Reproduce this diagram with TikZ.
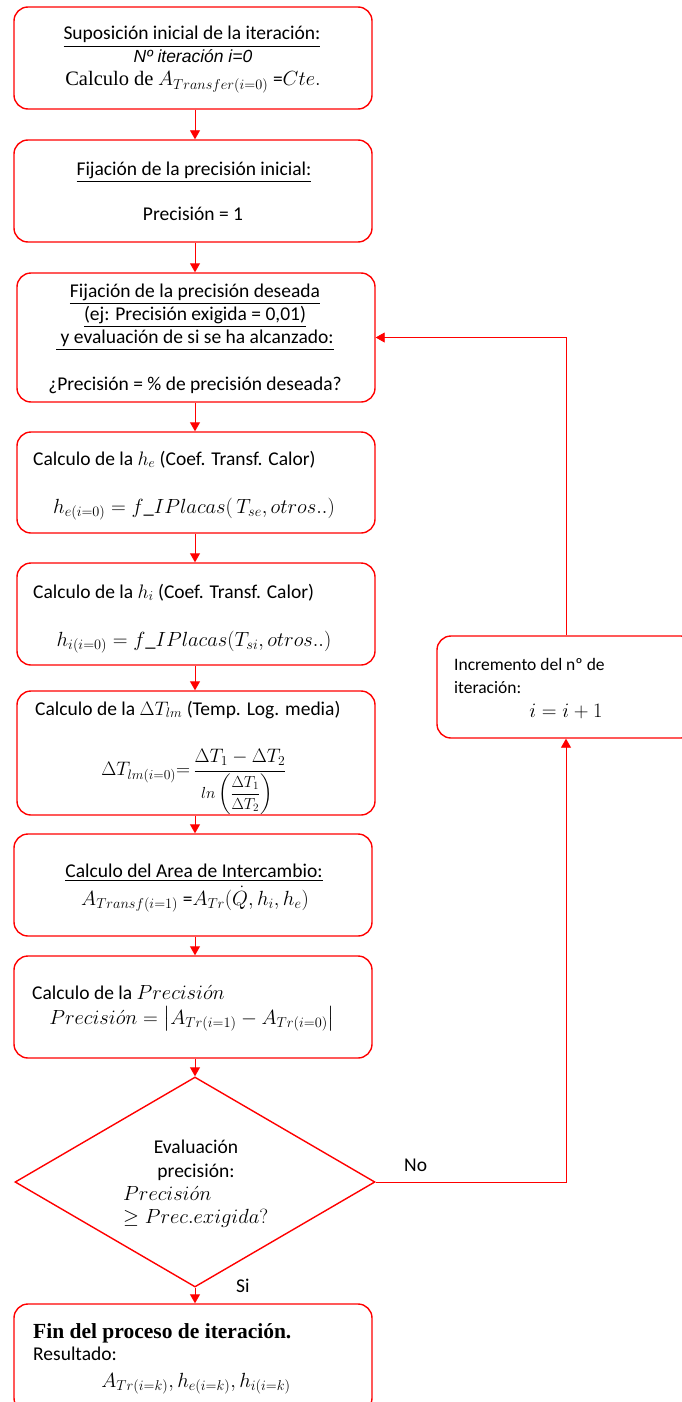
\RequirePackage{fix-cm}
\documentclass[tikz,border=0pt]{standalone}
\usepackage{amsmath}
\usepackage{graphicx}
\usepackage{fontspec}
\setmainfont{Carlito}
\newfontfamily\serifcb{Liberation Serif}
\newfontfamily\arialf{Liberation Sans}
\usetikzlibrary{arrows.meta,shapes.geometric}
\newcommand\myfs{\fontsize{19.5}{23}\selectfont}
\newcommand\smfs{\fontsize{17.5}{21}\selectfont}
\newcommand\mthfs{\fontsize{20.5}{24}\selectfont}
\newcommand\Prc{Precisi\acute{o}n}
\begin{document}
\begin{tikzpicture}[x=1pt,y=-1pt,
  box/.style={draw=red, line width=1.4pt, rounded corners=14pt, inner sep=0pt, minimum width=358pt},
  arr/.style={draw=red, line width=0.9pt, -{Triangle[width=10pt,length=9pt]}},
  txt/.style={inner sep=0pt, font=\myfs, text=black},
  mtxt/.style={inner sep=0pt, font=\mthfs, text=black}]
\useasboundingbox (0,0) rectangle (681,1402);
\coordinate (ax) at (195,0);
% box 1
\node[box, minimum height=102pt] (b1) at (193,58) {};
\node[txt, anchor=base] (t1a) at (192,40) {\underline{Suposición inicial de la iteración:}};
\node[txt, anchor=base] (t1b) at (193,63) {\smfs\arialf\itshape Nº iteración i=0};
\node[mtxt, anchor=base] (t1c) at (193,86) {{\serifcb Calculo de} $A_{Transfer(i=0)}$ {\myfs=}$Cte.$};
% box 2
\node[box, minimum height=102pt] (b2) at (193,191) {};
\node[txt, anchor=base] (t2a) at (194,175) {\underline{Fijación de la precisión inicial:}};
\node[txt, anchor=base] (t2b) at (193,220) {Precisión = 1};
% box 3
\node[box, minimum height=129pt] (b3) at (196,337.5) {};
\node[txt, anchor=base] (t3a) at (195,297) {\underline{Fijación de la precisión deseada}};
\node[txt, anchor=base] (t3b) at (195,320) {\underline{(ej: Precisión exigida = 0,01)}};
\node[txt, anchor=base] (t3c) at (195,343) {\underline{\ y evaluación de si se ha alcanzado:}};
\node[txt, anchor=base] (t3d) at (195,390) {¿Precisión = \% de precisión deseada?};
% box 4
\node[box, minimum height=101pt] (b4) at (196,482.5) {};
\node[txt, anchor=base west] (t4a) at (33,465) {Calculo de la $h_e$ (Coef. Transf. Calor)};
\node[mtxt, anchor=base] (t4b) at (194,513) {$h_{e(i=0)} = f\_IPlacas(\,T_{se}, otros..)$};
% box 5
\node[box, minimum height=102pt] (b5) at (196,614) {};
\node[txt, anchor=base west] (t5a) at (33,598) {Calculo de la $h_i$ (Coef. Transf. Calor)};
\node[mtxt, anchor=base] (t5b) at (194,646) {$h_{i(i=0)} = f\_IPlacas(T_{si}, otros..)$};
% box 6
\node[box, minimum height=124pt] (b6) at (196,753) {};
\node[txt, anchor=base west] (t6a) at (35,715) {Calculo de la $\Delta T_{lm}$ (Temp. Log. media)};
\node[inner sep=0pt, text=black, font=\fontsize{19.5}{23}\selectfont, anchor=center] (t6b) at (194,782) {$\Delta T_{lm(i=0)}{=}\,\dfrac{\Delta T_1-\Delta T_2}{\scalebox{0.82}{$ln\left(\dfrac{\Delta T_1}{\Delta T_2}\right)$}}$};
% box 7
\node[box, minimum height=102pt] (b7) at (193,885) {};
\node[txt, anchor=base] (t7a) at (194,877) {\underline{Calculo del Area de Intercambio:}};
\node[mtxt, anchor=base] (t7b) at (195,905) {$A_{Transf(i=1)}$ {\myfs=}$A_{Tr}(\dot{Q}, h_i, h_e)$};
% box 8
\node[box, minimum height=102pt] (b8) at (193,1007) {};
\node[txt, anchor=base west] (t8a) at (32,999) {Calculo de la {\mthfs$\Prc$}};
\node[mtxt, anchor=base] (t8b) at (192,1024) {$\Prc = \bigl|A_{Tr(i=1)} - A_{Tr(i=0)}\bigr|$};
% diamond
\node[diamond, draw=red, line width=1.4pt, minimum width=360pt, minimum height=210pt, inner sep=0pt] (d) at (195,1182) {};
\node[txt, anchor=base] (dt1) at (196,1153) {Evaluación};
\node[txt, anchor=base] (dt2) at (196,1177) {precisión:};
\node[mtxt, anchor=base west] (dt3) at (123,1200) {$\Prc$};
\node[mtxt, anchor=base west] (dt4) at (123,1223) {$\geq Prec.exigida?$};
\node[txt, anchor=base west] (no) at (404,1171) {No};
\node[txt, anchor=base west] (si) at (236,1292) {Si};
% box 9
\node[box, minimum height=108pt] (b9) at (193,1358) {};
\node[txt, anchor=base west] (t9a) at (33,1338) {\fontsize{21.5}{24}\selectfont\serifcb\bfseries Fin del proceso de iteración.};
\node[txt, anchor=base west] (t9b) at (33,1360) {Resultado:};
\node[mtxt, anchor=base] (t9c) at (196,1387) {$A_{Tr(i=k)}, h_{e(i=k)}, h_{i(i=k)}$};
% right box
\node[box, minimum width=258pt, minimum height=102pt] (r) at (566,687) {};
\node[txt, font=\smfs, anchor=base west] (tr1) at (454,670) {Incremento del nº de};
\node[txt, font=\smfs, anchor=base west] (tr2) at (454,693) {iteración:};
\node[mtxt, anchor=base] (tr3) at (566,717) {$i = i+1$};
% connectors
\draw[arr] (b1.south -| ax) -- (b2.north -| ax);
\draw[arr] (b2.south -| ax) -- (b3.north -| ax);
\draw[arr] (b3.south -| ax) -- (b4.north -| ax);
\draw[arr] (b4.south -| ax) -- (b5.north -| ax);
\draw[arr] (b5.south -| ax) -- (b6.north -| ax);
\draw[arr] (b6.south -| ax) -- (b7.north -| ax);
\draw[arr] (b7.south -| ax) -- (b8.north -| ax);
\draw[arr] (b8.south -| ax) -- (d.north);
\draw[arr] (d.south) -- (b9.north -| ax);
\draw[arr] (d.east) -| (r.south);
\draw[arr] (r.north) |- (b3.east);
\end{tikzpicture}
\end{document}
